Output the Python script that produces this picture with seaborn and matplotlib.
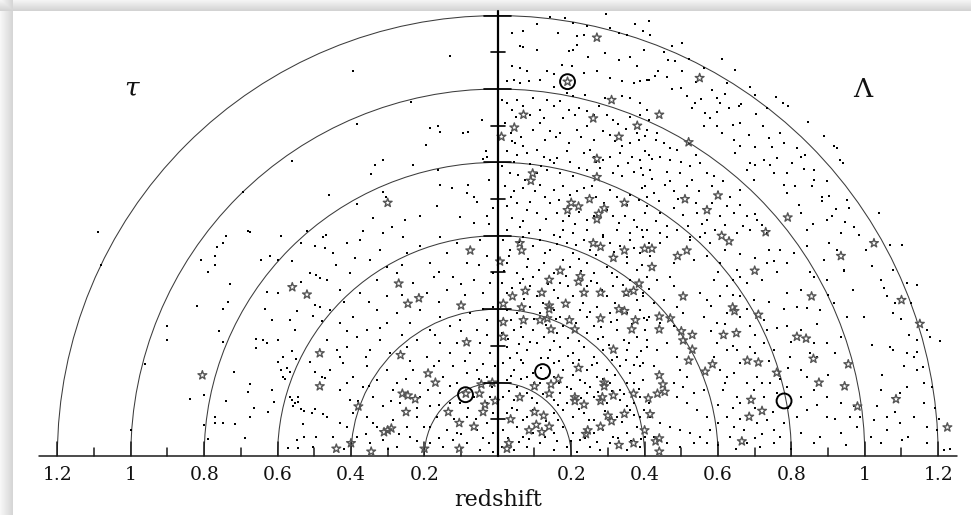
import numpy as np
import pandas as pd
import matplotlib
matplotlib.use("Agg")
import matplotlib.pyplot as plt
from matplotlib.patches import Arc
import seaborn as sns

# ---- wedge geometry -------------------------------------------------------
shell_radii = [0.2, 0.4, 0.6, 0.8, 1.0, 1.2]          # redshift shells
tick_values = [0.2, 0.4, 0.6, 0.8, 1.0, 1.2]
tick_labels = ["0.2", "0.4", "0.6", "0.8", "1", "1.2"]
axis_label = "redshift"
left_name, right_name = "τ", "Λ"

# ---- galaxies (projected x, y in redshift units) --------------------------
field_left_outer = [
    (-0.56, 0.805), (-0.695, 0.72), (-1.09, 0.61), (-0.74, 0.60), (-0.68, 0.613),
    (-0.59, 0.60), (-0.46, 0.71), (-1.08, 0.52), (-0.96, 0.25), (-1.0, 0.07),
    (-0.90, 0.355), (-0.90, 0.315), (-0.75, 0.58), (-0.765, 0.57), (-0.77, 0.545),
    (-0.77, 0.52), (-0.79, 0.50), (-0.81, 0.535), (-0.73, 0.47), (-0.735, 0.42),
    (-0.75, 0.40), (-0.82, 0.41), (-0.76, 0.34), (-0.75, 0.31), (-0.72, 0.23),
    (-0.84, 0.155), (-0.80, 0.165), (-0.74, 0.15), (-0.77, 0.107), (-0.77, 0.09),
    (-0.75, 0.09), (-0.715, 0.087), (-0.80, 0.085), (-0.79, 0.045), (-0.69, 0.048),
    (-0.675, 0.61), (-0.645, 0.535), (-0.62, 0.545), (-0.60, 0.535), (-0.56, 0.53),
    (-0.635, 0.40), (-0.615, 0.37), (-0.66, 0.32), (-0.64, 0.315), (-0.63, 0.307),
    (-0.60, 0.315), (-0.66, 0.295), (-0.585, 0.27), (-0.56, 0.285), (-0.55, 0.265),
    (-0.60, 0.257), (-0.59, 0.235), (-0.575, 0.24), (-0.585, 0.216), (-0.58, 0.21),
    (-0.565, 0.23), (-0.615, 0.18), (-0.61, 0.148), (-0.625, 0.12), (-0.675, 0.196),
    (-0.68, 0.175), (-0.665, 0.13), (-0.675, 0.105), (-0.565, 0.16), (-0.56, 0.153),
    (-0.553, 0.144), (-0.557, 0.135), (-0.544, 0.162), (-0.545, 0.148), (-0.536, 0.127),
    (-0.528, 0.123), (-0.507, 0.118), (-0.498, 0.127), (-0.475, 0.115), (-0.532, 0.087),
    (-0.528, 0.051), (-0.548, 0.044), (-0.571, 0.021), (-0.544, 0.021), (-0.503, 0.024),
    (-0.494, 0.051), (-0.471, 0.212), (-0.498, 0.23), (-0.48, 0.216), (-0.512, 0.255),
    (-0.553, 0.344), (-0.566, 0.371), (-0.548, 0.394), (-0.498, 0.412), (-0.485, 0.407),
    (-0.503, 0.382), (-0.48, 0.369), (-0.535, 0.475), (-0.512, 0.498), (-0.494, 0.492),
    (-0.485, 0.485), (-0.471, 0.566), (-0.498, 0.571), (-0.535, 0.58), (-0.63, 0.448),
    (-0.598, 0.444), (-0.521, 0.612), (-0.468, 0.603),
    (-0.13, 1.09), (-0.395, 1.05), (-0.237, 0.965), (-0.385, 0.905), (-0.185, 0.894),
    (-0.162, 0.898), (-0.157, 0.882), (-0.195, 0.848), (-0.094, 0.88), (-0.08, 0.883),
    (-0.042, 0.916), (-0.033, 0.83), (-0.03, 0.816), (-0.039, 0.81), (-0.335, 0.792),
    (-0.346, 0.768), (-0.314, 0.807), (-0.23, 0.794), (-0.162, 0.78), (-0.385, 0.687),
    (-0.312, 0.718), (-0.305, 0.707), (-0.157, 0.739), (-0.125, 0.73), (-0.08, 0.739),
    (-0.085, 0.716), (-0.066, 0.707), (-0.057, 0.691), (-0.025, 0.753), (-0.012, 0.675),
    (-0.253, 0.644), (-0.212, 0.655), (-0.166, 0.68), (-0.103, 0.651), (-0.066, 0.636),
    (-0.03, 0.653), (-0.025, 0.633), (-0.289, 0.625), (-0.366, 0.612), (-0.339, 0.648),
    (-0.312, 0.607),
]
field_left_inner = [
    (-0.475, 0.598), (-0.448, 0.553), (-0.412, 0.58), (-0.375, 0.589), (-0.348, 0.535),
    (-0.321, 0.562), (-0.303, 0.516), (-0.257, 0.598), (-0.248, 0.553), (-0.212, 0.571),
    (-0.185, 0.525), (-0.157, 0.598), (-0.139, 0.553), (-0.112, 0.58), (-0.085, 0.525),
    (-0.048, 0.589), (-0.03, 0.544), (-0.012, 0.498), (-0.466, 0.48), (-0.43, 0.453),
    (-0.403, 0.498), (-0.375, 0.444), (-0.33, 0.48), (-0.303, 0.435), (-0.275, 0.498),
    (-0.23, 0.471), (-0.194, 0.444), (-0.175, 0.489), (-0.139, 0.453), (-0.121, 0.489),
    (-0.066, 0.48), (-0.039, 0.444), (-0.021, 0.471), (-0.457, 0.398), (-0.43, 0.362),
    (-0.394, 0.38), (-0.357, 0.344), (-0.33, 0.398), (-0.303, 0.362), (-0.275, 0.389),
    (-0.239, 0.362), (-0.212, 0.398), (-0.185, 0.344), (-0.157, 0.38), (-0.13, 0.353),
    (-0.103, 0.371), (-0.075, 0.389), (-0.057, 0.344), (-0.03, 0.371), (-0.012, 0.407),
    (-0.466, 0.316), (-0.439, 0.289), (-0.412, 0.298), (-0.385, 0.325), (-0.348, 0.289),
    (-0.321, 0.316), (-0.294, 0.28), (-0.248, 0.298), (-0.221, 0.316), (-0.194, 0.271),
    (-0.157, 0.307), (-0.13, 0.28), (-0.112, 0.307), (-0.075, 0.28), (-0.048, 0.307),
    (-0.021, 0.28), (-0.007, 0.244), (-0.457, 0.235), (-0.421, 0.253), (-0.394, 0.216),
    (-0.357, 0.244), (-0.33, 0.207), (-0.303, 0.235), (-0.275, 0.198), (-0.23, 0.235),
    (-0.212, 0.198), (-0.175, 0.244), (-0.148, 0.216), (-0.121, 0.244), (-0.112, 0.198),
    (-0.085, 0.225), (-0.057, 0.235), (-0.03, 0.216), (-0.016, 0.189), (-0.43, 0.18),
    (-0.403, 0.153), (-0.366, 0.189), (-0.339, 0.162), (-0.312, 0.135), (-0.285, 0.18),
    (-0.266, 0.144), (-0.212, 0.162), (-0.185, 0.135), (-0.157, 0.171), (-0.13, 0.144),
    (-0.103, 0.144), (-0.066, 0.162), (-0.03, 0.144), (-0.012, 0.116), (-0.466, 0.107),
    (-0.43, 0.089), (-0.394, 0.116), (-0.357, 0.107), (-0.33, 0.08), (-0.285, 0.098),
    (-0.248, 0.08), (-0.221, 0.107), (-0.185, 0.08), (-0.166, 0.107), (-0.139, 0.071),
    (-0.112, 0.062), (-0.085, 0.107), (-0.057, 0.071), (-0.03, 0.089), (-0.012, 0.062),
    (-0.448, 0.053), (-0.385, 0.053), (-0.348, 0.035), (-0.312, 0.044), (-0.275, 0.025),
    (-0.239, 0.053), (-0.185, 0.035), (-0.148, 0.025), (-0.121, 0.044), (-0.085, 0.035),
    (-0.048, 0.016), (-0.025, 0.035), (-0.012, 0.012),
    (-0.44, 0.52), (-0.39, 0.54), (-0.26, 0.52), (-0.16, 0.50), (-0.10, 0.47), (-0.05, 0.52),
    (-0.42, 0.42), (-0.35, 0.42), (-0.26, 0.44), (-0.16, 0.42), (-0.09, 0.44), (-0.04, 0.40),
    (-0.41, 0.34), (-0.32, 0.35), (-0.26, 0.33), (-0.17, 0.33), (-0.10, 0.34), (-0.03, 0.33),
    (-0.43, 0.27), (-0.36, 0.27), (-0.24, 0.26), (-0.16, 0.26), (-0.09, 0.26), (-0.04, 0.25),
    (-0.41, 0.20), (-0.35, 0.19), (-0.25, 0.21), (-0.19, 0.18), (-0.13, 0.19), (-0.05, 0.21),
    (-0.38, 0.15), (-0.29, 0.15), (-0.22, 0.13), (-0.16, 0.14), (-0.08, 0.13), (-0.02, 0.16),
    (-0.41, 0.08), (-0.34, 0.09), (-0.27, 0.06), (-0.20, 0.08), (-0.12, 0.10), (-0.06, 0.10),
    (-0.42, 0.02), (-0.36, 0.06), (-0.30, 0.02), (-0.22, 0.04), (-0.16, 0.05), (-0.10, 0.06),
    (-0.04, 0.05),
]
field_right_inner = [
    (0.015, 0.589), (0.034, 0.562), (0.07, 0.598), (0.097, 0.571), (0.115, 0.589),
    (0.143, 0.562), (0.17, 0.598), (0.188, 0.58), (0.206, 0.553), (0.234, 0.589),
    (0.252, 0.562), (0.288, 0.598), (0.306, 0.58), (0.334, 0.571), (0.361, 0.589),
    (0.388, 0.553), (0.411, 0.58), (0.025, 0.525), (0.052, 0.498), (0.079, 0.516),
    (0.097, 0.489), (0.125, 0.525), (0.152, 0.498), (0.179, 0.535), (0.197, 0.516),
    (0.243, 0.525), (0.261, 0.498), (0.297, 0.516), (0.325, 0.489), (0.352, 0.525),
    (0.379, 0.507), (0.406, 0.489), (0.011, 0.471), (0.038, 0.457), (0.061, 0.471),
    (0.088, 0.462), (0.106, 0.435), (0.152, 0.453), (0.17, 0.471), (0.206, 0.435),
    (0.243, 0.462), (0.27, 0.471), (0.297, 0.435), (0.315, 0.462), (0.361, 0.48),
    (0.397, 0.444), (0.025, 0.398), (0.052, 0.389), (0.088, 0.407), (0.115, 0.389),
    (0.152, 0.398), (0.17, 0.38), (0.225, 0.398), (0.243, 0.38), (0.27, 0.407),
    (0.306, 0.389), (0.325, 0.371), (0.352, 0.389), (0.388, 0.398), (0.411, 0.38),
    (0.011, 0.335), (0.043, 0.344), (0.07, 0.325), (0.097, 0.344), (0.125, 0.325),
    (0.161, 0.335), (0.179, 0.353), (0.243, 0.335), (0.261, 0.353), (0.288, 0.325),
    (0.325, 0.344), (0.343, 0.316), (0.379, 0.325), (0.402, 0.344), (0.025, 0.298),
    (0.052, 0.28), (0.079, 0.289), (0.106, 0.307), (0.143, 0.289), (0.17, 0.298),
    (0.206, 0.28), (0.234, 0.298), (0.261, 0.271), (0.288, 0.289), (0.325, 0.271),
    (0.352, 0.289), (0.379, 0.271), (0.406, 0.298), (0.015, 0.253), (0.043, 0.235),
    (0.07, 0.253), (0.097, 0.225), (0.152, 0.253), (0.179, 0.235), (0.206, 0.253),
    (0.243, 0.235), (0.27, 0.253), (0.297, 0.235), (0.334, 0.244), (0.361, 0.225),
    (0.388, 0.244), (0.025, 0.207), (0.052, 0.189), (0.079, 0.216), (0.115, 0.198),
    (0.152, 0.216), (0.188, 0.189), (0.225, 0.207), (0.252, 0.189), (0.27, 0.216),
    (0.306, 0.198), (0.334, 0.18), (0.37, 0.198), (0.397, 0.207), (0.015, 0.162),
    (0.043, 0.153), (0.079, 0.171), (0.106, 0.144), (0.152, 0.153), (0.17, 0.171),
    (0.188, 0.144), (0.243, 0.171), (0.261, 0.162), (0.297, 0.144), (0.334, 0.153),
    (0.352, 0.135), (0.388, 0.162), (0.411, 0.144), (0.025, 0.116), (0.052, 0.125),
    (0.079, 0.107), (0.152, 0.116), (0.179, 0.125), (0.206, 0.107), (0.234, 0.116),
    (0.261, 0.098), (0.325, 0.107), (0.361, 0.125), (0.388, 0.107), (0.015, 0.071),
    (0.052, 0.08), (0.07, 0.053), (0.097, 0.062), (0.152, 0.062), (0.179, 0.08),
    (0.206, 0.062), (0.225, 0.044), (0.261, 0.062), (0.288, 0.071), (0.315, 0.053),
    (0.352, 0.062), (0.379, 0.08), (0.402, 0.053), (0.011, 0.025), (0.043, 0.016),
    (0.079, 0.025), (0.115, 0.035), (0.152, 0.016), (0.188, 0.025), (0.215, 0.012),
    (0.252, 0.025), (0.279, 0.016), (0.306, 0.035), (0.352, 0.016), (0.388, 0.025),
    (0.397, 0.598), (0.415, 0.544), (0.443, 0.58), (0.461, 0.598), (0.406, 0.489),
    (0.434, 0.48), (0.47, 0.489), (0.479, 0.462), (0.397, 0.435), (0.425, 0.416),
    (0.452, 0.425), (0.488, 0.407), (0.506, 0.389), (0.406, 0.371), (0.443, 0.362),
    (0.479, 0.353), (0.406, 0.316), (0.434, 0.289), (0.461, 0.307), (0.488, 0.271),
    (0.397, 0.253), (0.425, 0.244), (0.497, 0.235), (0.515, 0.216), (0.479, 0.198),
    (0.506, 0.189), (0.534, 0.171), (0.561, 0.18), (0.488, 0.162), (0.515, 0.144),
    (0.543, 0.125), (0.57, 0.107), (0.415, 0.107), (0.443, 0.089), (0.47, 0.08),
    (0.497, 0.071), (0.525, 0.062), (0.552, 0.053), (0.579, 0.071), (0.425, 0.053),
    (0.461, 0.035), (0.497, 0.025), (0.534, 0.035), (0.57, 0.035),
]
field_right_dense = [
    (0.03, 0.545), (0.058, 0.582), (0.083, 0.538), (0.128, 0.552), (0.162, 0.578),
    (0.213, 0.575), (0.222, 0.536), (0.268, 0.548), (0.318, 0.557), (0.351, 0.542),
    (0.372, 0.566), (0.018, 0.505), (0.068, 0.482), (0.112, 0.506), (0.138, 0.468),
    (0.186, 0.49), (0.228, 0.505), (0.255, 0.478), (0.31, 0.498), (0.342, 0.466),
    (0.392, 0.52), (0.026, 0.445), (0.072, 0.428), (0.124, 0.418), (0.164, 0.43),
    (0.192, 0.462), (0.232, 0.418), (0.283, 0.452), (0.319, 0.418), (0.348, 0.438),
    (0.38, 0.425), (0.412, 0.455), (0.035, 0.37), (0.062, 0.352), (0.098, 0.372),
    (0.132, 0.356), (0.158, 0.372), (0.214, 0.362), (0.252, 0.392), (0.28, 0.352),
    (0.308, 0.365), (0.366, 0.36), (0.398, 0.376), (0.028, 0.318), (0.058, 0.305),
    (0.088, 0.31), (0.118, 0.268), (0.152, 0.312), (0.19, 0.322), (0.222, 0.312),
    (0.272, 0.318), (0.302, 0.302), (0.358, 0.308), (0.39, 0.285), (0.032, 0.268),
    (0.062, 0.262), (0.118, 0.24), (0.138, 0.268), (0.168, 0.258), (0.19, 0.272),
    (0.222, 0.262), (0.258, 0.248), (0.312, 0.262), (0.348, 0.262), (0.372, 0.248),
    (0.036, 0.218), (0.064, 0.21), (0.10, 0.20), (0.132, 0.212), (0.168, 0.198),
    (0.205, 0.22), (0.238, 0.20), (0.288, 0.21), (0.32, 0.222), (0.352, 0.20),
    (0.384, 0.182), (0.03, 0.178), (0.06, 0.168), (0.092, 0.158), (0.122, 0.168),
    (0.165, 0.138), (0.20, 0.182), (0.226, 0.158), (0.272, 0.175), (0.31, 0.178),
    (0.345, 0.168), (0.372, 0.145), (0.038, 0.132), (0.068, 0.098), (0.095, 0.125),
    (0.132, 0.095), (0.165, 0.098), (0.222, 0.128), (0.248, 0.098), (0.292, 0.122),
    (0.338, 0.092), (0.372, 0.112), (0.398, 0.125), (0.028, 0.05), (0.058, 0.038),
    (0.085, 0.045), (0.128, 0.052), (0.162, 0.042), (0.20, 0.042), (0.238, 0.05),
    (0.27, 0.038), (0.328, 0.048), (0.362, 0.042), (0.39, 0.045),
    (0.035, 0.705), (0.088, 0.692), (0.128, 0.705), (0.168, 0.698), (0.198, 0.712),
    (0.268, 0.705), (0.29, 0.69), (0.352, 0.685), (0.392, 0.73), (0.04, 0.648),
    (0.07, 0.64), (0.13, 0.645), (0.178, 0.64), (0.21, 0.632), (0.262, 0.655),
    (0.33, 0.635), (0.378, 0.625), (0.045, 0.80), (0.088, 0.795), (0.118, 0.79),
    (0.198, 0.80), (0.222, 0.785), (0.268, 0.80), (0.328, 0.79), (0.355, 0.798),
    (0.39, 0.785), (0.035, 0.88), (0.062, 0.87), (0.128, 0.862), (0.158, 0.868),
    (0.228, 0.868), (0.262, 0.86), (0.32, 0.858), (0.35, 0.89), (0.378, 0.88),
    (0.05, 0.925), (0.088, 0.93), (0.125, 0.92), (0.178, 0.92), (0.21, 0.93),
    (0.262, 0.928), (0.328, 0.905),
    (0.43, 0.64), (0.462, 0.628), (0.518, 0.628), (0.556, 0.632), (0.62, 0.63),
    (0.668, 0.628), (0.72, 0.63), (0.44, 0.695), (0.49, 0.70), (0.54, 0.69),
    (0.585, 0.69), (0.625, 0.68), (0.66, 0.685), (0.70, 0.66), (0.42, 0.755),
    (0.47, 0.75), (0.53, 0.752), (0.60, 0.72), (0.42, 0.81), (0.50, 0.80),
    (0.54, 0.82), (0.43, 0.86), (0.47, 0.84), (0.52, 0.85),
    (0.62, 0.56), (0.66, 0.55), (0.70, 0.54), (0.74, 0.56), (0.60, 0.50), (0.64, 0.48),
    (0.72, 0.48), (0.76, 0.50), (0.58, 0.41), (0.64, 0.44), (0.68, 0.40), (0.74, 0.42),
    (0.78, 0.40), (0.58, 0.34), (0.62, 0.36), (0.70, 0.33), (0.76, 0.35), (0.80, 0.31),
    (0.59, 0.27), (0.64, 0.30), (0.70, 0.28), (0.74, 0.26), (0.79, 0.24), (0.62, 0.20),
    (0.68, 0.20), (0.72, 0.20), (0.77, 0.21), (0.60, 0.14), (0.64, 0.13), (0.70, 0.13),
    (0.75, 0.12), (0.79, 0.13), (0.60, 0.09), (0.66, 0.10), (0.72, 0.06), (0.78, 0.09),
    (0.60, 0.03), (0.65, 0.02), (0.70, 0.05), (0.80, 0.02), (0.85, 0.50), (0.90, 0.44),
    (0.87, 0.36), (0.92, 0.28), (0.90, 0.22), (0.85, 0.28), (0.92, 0.10), (0.95, 0.03),
    (0.87, 0.14),
    (0.452, 1.102), (0.503, 1.048), (0.541, 1.018), (0.584, 0.996), (0.522, 1.082),
    (0.474, 1.118), (0.563, 1.057), (0.618, 0.987), (0.662, 0.958), (0.703, 0.932),
    (0.684, 0.876), (0.722, 0.898), (0.748, 0.842), (0.781, 0.853), (0.802, 0.797),
    (0.834, 0.781), (0.862, 0.752), (0.903, 0.708), (0.921, 0.672), (0.947, 0.638),
    (0.983, 0.603), (1.004, 0.562), (1.021, 0.518), (1.052, 0.458), (1.083, 0.417),
    (1.098, 0.372), (1.121, 0.331), (1.143, 0.282), (1.158, 0.243), (1.182, 0.188),
    (1.191, 0.132), (1.203, 0.102), (1.118, 0.052), (1.082, 0.121), (1.047, 0.222),
    (1.019, 0.302), (0.998, 0.378), (0.968, 0.452), (0.942, 0.503), (0.903, 0.581),
    (0.858, 0.632), (0.822, 0.684), (0.781, 0.738), (0.742, 0.792), (0.702, 0.843),
    (0.641, 0.902), (0.598, 0.938), (0.553, 0.972), (0.498, 1.003), (0.461, 1.032),
]
field_right_middle = [
    (0.525, 0.589), (0.552, 0.598), (0.579, 0.58), (0.479, 0.525), (0.534, 0.535),
    (0.57, 0.544), (0.606, 0.525), (0.652, 0.507), (0.661, 0.489), (0.588, 0.48),
    (0.625, 0.462), (0.68, 0.471), (0.552, 0.444), (0.57, 0.425), (0.606, 0.435),
    (0.661, 0.435), (0.697, 0.425), (0.561, 0.38), (0.597, 0.362), (0.625, 0.389),
    (0.661, 0.38), (0.688, 0.353), (0.725, 0.371), (0.734, 0.344), (0.597, 0.307),
    (0.625, 0.289), (0.652, 0.289), (0.688, 0.298), (0.725, 0.307), (0.752, 0.289),
    (0.606, 0.235), (0.625, 0.216), (0.643, 0.225), (0.661, 0.253), (0.706, 0.216),
    (0.741, 0.198), (0.615, 0.18), (0.652, 0.162), (0.661, 0.144), (0.697, 0.18),
    (0.725, 0.162), (0.761, 0.171), (0.625, 0.107), (0.643, 0.08), (0.67, 0.071),
    (0.706, 0.089), (0.734, 0.098), (0.752, 0.071), (0.634, 0.053), (0.679, 0.035),
    (0.715, 0.025), (0.752, 0.035), (0.77, 0.053),
    (0.77, 0.562), (0.752, 0.53), (0.734, 0.525), (0.788, 0.525), (0.806, 0.553),
    (0.843, 0.571), (0.888, 0.535), (0.925, 0.562), (0.943, 0.507), (0.897, 0.48),
    (0.861, 0.489), (0.825, 0.453), (0.788, 0.444), (0.815, 0.407), (0.843, 0.403),
    (0.879, 0.398), (0.915, 0.416), (0.952, 0.38), (0.788, 0.353), (0.825, 0.344),
    (0.861, 0.307), (0.87, 0.271), (0.897, 0.307), (0.934, 0.325), (0.797, 0.271),
    (0.825, 0.235), (0.843, 0.216), (0.788, 0.189), (0.861, 0.18), (0.897, 0.162),
    (0.934, 0.144), (0.961, 0.107), (0.979, 0.08), (0.897, 0.107), (0.843, 0.125),
    (0.825, 0.162), (0.815, 0.107), (0.879, 0.053), (0.861, 0.035), (0.934, 0.062),
    (0.825, 0.062), (0.988, 0.107), (0.97, 0.135),
    (0.406, 0.889), (0.434, 0.88), (0.452, 0.853), (0.402, 0.83), (0.443, 0.816),
    (0.47, 0.807), (0.488, 0.835), (0.415, 0.78), (0.461, 0.775), (0.497, 0.771),
    (0.525, 0.789), (0.552, 0.798), (0.57, 0.771), (0.588, 0.762), (0.402, 0.735),
    (0.425, 0.716), (0.456, 0.739), (0.479, 0.721), (0.515, 0.735), (0.547, 0.721),
    (0.585, 0.735), (0.615, 0.748), (0.634, 0.707), (0.406, 0.68), (0.443, 0.662),
    (0.479, 0.675), (0.506, 0.657), (0.543, 0.662), (0.57, 0.644), (0.606, 0.653),
    (0.643, 0.662), (0.679, 0.653), (0.706, 0.644), (0.406, 0.616), (0.443, 0.607),
    (0.488, 0.616), (0.525, 0.598), (0.565, 0.607), (0.592, 0.616), (0.652, 0.607),
    (0.688, 0.616), (0.734, 0.607),
]
field_right_upper = [
    (0.011, 0.789), (0.034, 0.771), (0.056, 0.766), (0.075, 0.753), (0.106, 0.771),
    (0.134, 0.78), (0.17, 0.771), (0.206, 0.762), (0.243, 0.78), (0.279, 0.785),
    (0.315, 0.771), (0.338, 0.762), (0.37, 0.775), (0.397, 0.766), (0.02, 0.735),
    (0.043, 0.721), (0.07, 0.73), (0.102, 0.721), (0.115, 0.739), (0.152, 0.725),
    (0.179, 0.735), (0.215, 0.721), (0.234, 0.73), (0.256, 0.735), (0.306, 0.725),
    (0.325, 0.707), (0.361, 0.712), (0.384, 0.698), (0.406, 0.707), (0.025, 0.68),
    (0.052, 0.689), (0.079, 0.671), (0.106, 0.662), (0.143, 0.689), (0.161, 0.662),
    (0.193, 0.653), (0.22, 0.666), (0.243, 0.644), (0.297, 0.671), (0.315, 0.653),
    (0.347, 0.653), (0.37, 0.644), (0.402, 0.662), (0.025, 0.616), (0.061, 0.625),
    (0.084, 0.607), (0.115, 0.616), (0.152, 0.603), (0.179, 0.616), (0.206, 0.607),
    (0.243, 0.616), (0.288, 0.603), (0.325, 0.616), (0.361, 0.607), (0.393, 0.616),
    (0.025, 1.021), (0.043, 1.025), (0.061, 1.016), (0.086, 1.021), (0.115, 1.025),
    (0.152, 1.005), (0.188, 0.989), (0.206, 0.98), (0.238, 0.985), (0.275, 0.953),
    (0.293, 0.975), (0.338, 0.98), (0.361, 0.975), (0.388, 0.962), (0.406, 0.944),
    (0.011, 0.971), (0.025, 0.962), (0.038, 0.944), (0.052, 0.971), (0.07, 0.953),
    (0.097, 0.975), (0.115, 0.944), (0.134, 0.971), (0.152, 0.953), (0.17, 0.966),
    (0.193, 0.944), (0.22, 0.948), (0.243, 0.939), (0.297, 0.93), (0.315, 0.916),
    (0.361, 0.925), (0.388, 0.93), (0.411, 0.916), (0.02, 0.907), (0.038, 0.857),
    (0.047, 0.853), (0.07, 0.846), (0.097, 0.889), (0.115, 0.907), (0.143, 0.885),
    (0.17, 0.88), (0.193, 0.853), (0.215, 0.889), (0.243, 0.898), (0.288, 0.885),
    (0.306, 0.875), (0.338, 0.844), (0.361, 0.853), (0.384, 0.862), (0.402, 0.871),
    (0.025, 0.83), (0.052, 0.821), (0.079, 0.825), (0.106, 0.835), (0.125, 0.816),
    (0.143, 0.807), (0.152, 0.798), (0.161, 0.812), (0.188, 0.83), (0.234, 0.825),
    (0.252, 0.835), (0.261, 0.816), (0.288, 0.807), (0.306, 0.816), (0.334, 0.825),
    (0.365, 0.816), (0.388, 0.807), (0.411, 0.821),
    (0.038, 1.153), (0.07, 1.157), (0.106, 1.178), (0.143, 1.196), (0.165, 1.153),
    (0.184, 1.194), (0.206, 1.18), (0.215, 1.144), (0.234, 1.148), (0.243, 1.171),
    (0.295, 1.203), (0.306, 1.166), (0.329, 1.153), (0.352, 1.148), (0.375, 1.178),
    (0.397, 1.157), (0.411, 1.185), (0.061, 1.116), (0.07, 1.114), (0.106, 1.105),
    (0.193, 1.103), (0.206, 1.107), (0.215, 1.121), (0.245, 1.087), (0.293, 1.098),
    (0.329, 1.08), (0.361, 1.087), (0.379, 1.062), (0.399, 1.107), (0.038, 1.062),
    (0.061, 1.057), (0.079, 1.048), (0.134, 1.048), (0.152, 1.042), (0.175, 1.066),
    (0.202, 1.062), (0.234, 1.044), (0.27, 1.048), (0.306, 1.03), (0.338, 1.021),
    (0.37, 1.016), (0.388, 1.021), (0.411, 1.025),
]
field_right_outer = [
    (0.415, 1.148), (0.502, 1.125), (0.61, 1.082), (0.647, 1.053), (0.688, 1.005),
    (0.759, 0.978), (0.777, 0.962), (0.792, 0.955), (0.845, 0.909), (0.888, 0.871),
    (0.915, 0.845), (0.923, 0.839), (0.932, 0.807), (0.941, 0.798), (1.038, 0.662),
    (0.465, 1.08), (0.483, 1.075), (0.437, 1.048), (0.406, 1.025), (0.429, 1.036),
    (0.475, 1.0), (0.515, 0.98), (0.537, 0.962), (0.528, 0.948), (0.597, 0.975),
    (0.606, 0.962), (0.629, 0.948), (0.657, 0.953), (0.625, 1.015), (0.565, 0.935),
    (0.579, 0.921), (0.561, 0.898), (0.597, 0.898), (0.61, 0.88), (0.66, 0.907),
    (0.702, 0.985), (0.734, 0.948), (0.738, 0.866), (0.77, 0.88), (0.815, 0.839),
    (0.825, 0.816), (0.838, 0.821), (0.861, 0.78), (0.884, 0.707), (0.897, 0.748),
    (0.688, 0.798), (0.702, 0.794), (0.725, 0.807), (0.761, 0.812), (0.788, 0.771),
    (0.811, 0.735), (0.856, 0.735), (0.884, 0.694), (0.952, 0.698), (0.956, 0.675),
    (0.97, 0.625), (0.934, 0.607), (0.897, 0.644), (0.911, 0.653), (0.825, 0.662),
    (0.843, 0.616), (0.788, 0.716), (0.66, 0.844), (0.647, 0.825), (0.643, 0.862),
    (0.697, 0.753), (0.679, 0.78), (0.752, 0.771), (0.66, 0.725),
    (1.07, 0.575), (1.102, 0.575), (1.078, 0.507), (1.043, 0.48), (1.061, 0.435),
    (1.115, 0.471), (1.142, 0.466), (1.125, 0.416), (1.078, 0.389), (1.07, 0.298),
    (1.078, 0.289), (1.115, 0.28), (1.133, 0.271), (1.142, 0.316), (1.169, 0.344),
    (1.179, 0.325), (1.206, 0.312), (1.106, 0.244), (1.142, 0.235), (1.161, 0.198),
    (1.115, 0.189), (1.097, 0.171), (1.043, 0.18), (1.034, 0.135), (1.061, 0.107),
    (1.097, 0.089), (1.133, 0.107), (1.161, 0.144), (1.17, 0.08), (1.102, 0.044),
    (1.061, 0.071), (1.025, 0.098), (1.016, 0.053), (1.043, 0.035), (1.17, 0.035),
    (1.197, 0.071), (1.215, 0.016), (1.233, 0.02),
]

# ---- emission-line objects (stars) and flagged sources (circles) ----------
stars_upper = [
    (0.27, 1.14), (0.19, 1.02), (0.31, 0.97), (0.07, 0.93), (0.26, 0.92), (0.38, 0.90),
    (0.045, 0.895), (0.01, 0.87), (0.33, 0.87), (0.27, 0.81), (0.095, 0.77), (0.09, 0.75),
    (0.27, 0.76), (-0.30, 0.69), (0.25, 0.70), (0.345, 0.69), (0.20, 0.69), (0.22, 0.68),
    (0.19, 0.67), (0.29, 0.675), (0.275, 0.66), (0.27, 0.645), (0.55, 1.03), (0.44, 0.93),
    (0.52, 0.855), (0.60, 0.71), (0.51, 0.70), (0.57, 0.67), (0.79, 0.65), (0.73, 0.61),
    (0.61, 0.60),
]
stars_inner = [
    (0.06, 0.58), (0.065, 0.56), (-0.075, 0.56), (0.006, 0.53), (0.26, 0.58), (0.28, 0.57),
    (0.315, 0.54), (0.345, 0.56), (0.40, 0.565), (0.17, 0.505), (0.225, 0.49), (0.22, 0.475),
    (0.14, 0.48), (0.075, 0.45), (0.12, 0.445), (0.235, 0.445), (0.28, 0.445), (0.385, 0.47),
    (0.37, 0.45), (0.35, 0.445), (0.04, 0.435), (-0.27, 0.47), (-0.215, 0.43), (-0.245, 0.415),
    (-0.10, 0.41), (0.015, 0.415), (0.065, 0.405), (0.14, 0.41), (0.14, 0.40), (0.185, 0.415),
    (0.33, 0.40), (0.345, 0.395), (0.375, 0.37), (0.365, 0.345), (0.28, 0.375), (0.195, 0.37),
    (0.135, 0.375), (0.115, 0.37), (0.015, 0.365), (0.07, 0.37), (0.145, 0.345), (0.21, 0.345),
    (0.315, 0.29), (0.015, 0.325), (-0.085, 0.31), (-0.265, 0.275), (0.22, 0.24), (-0.485, 0.28),
    (-0.19, 0.225), (-0.17, 0.20), (-0.045, 0.195), (-0.015, 0.20), (-0.05, 0.17), (-0.087, 0.17),
    (-0.26, 0.17), (-0.245, 0.165), (-0.225, 0.155), (-0.38, 0.135), (-0.25, 0.12), (-0.30, 0.07),
    (-0.31, 0.065), (-0.29, 0.075), (-0.40, 0.035), (-0.44, 0.02), (-0.345, 0.012), (-0.20, 0.02),
    (-0.105, 0.02), (-0.105, 0.09), (-0.065, 0.08), (-0.135, 0.12), (-0.035, 0.14), (-0.04, 0.12),
    (-0.007, 0.15), (0.035, 0.10), (0.03, 0.035), (0.025, 0.02), (0.06, 0.16), (0.10, 0.19),
    (0.145, 0.195), (0.165, 0.21), (0.14, 0.17), (0.10, 0.12), (0.125, 0.11), (0.105, 0.085),
    (0.14, 0.08), (0.085, 0.07), (0.12, 0.065), (0.21, 0.16), (0.21, 0.15), (0.235, 0.14),
    (0.28, 0.15), (0.29, 0.20), (0.29, 0.19), (0.315, 0.165), (0.285, 0.16), (0.37, 0.17),
    (0.345, 0.115), (0.30, 0.11), (0.31, 0.095), (0.28, 0.08), (0.245, 0.07), (0.24, 0.06),
    (0.40, 0.07), (0.33, 0.03), (0.37, 0.035),
    (-0.56, 0.46), (-0.52, 0.44), (-0.485, 0.19), (-0.805, 0.22),
]
stars_outer = [
    (0.63, 0.585), (1.025, 0.58), (0.935, 0.545), (0.42, 0.565), (0.515, 0.56), (0.49, 0.545),
    (0.42, 0.515), (0.70, 0.505), (0.505, 0.435), (0.855, 0.435), (1.10, 0.425), (0.64, 0.405),
    (0.645, 0.395), (0.71, 0.385), (0.44, 0.38), (0.47, 0.375), (1.15, 0.36), (0.44, 0.345),
    (0.50, 0.34), (0.505, 0.315), (0.53, 0.33), (0.615, 0.33), (0.65, 0.335), (0.815, 0.325),
    (0.84, 0.32), (0.53, 0.29), (0.52, 0.26), (0.68, 0.26), (0.71, 0.255), (0.86, 0.265),
    (0.585, 0.25), (0.955, 0.25), (0.565, 0.23), (0.76, 0.227), (0.44, 0.22), (0.45, 0.195),
    (0.875, 0.20), (0.945, 0.19), (0.435, 0.17), (0.455, 0.175), (0.41, 0.157), (0.69, 0.153),
    (1.085, 0.155), (0.98, 0.135), (0.72, 0.123), (0.685, 0.107), (0.415, 0.114), (0.44, 0.048),
    (0.43, 0.04), (0.44, 0.012), (0.665, 0.04), (1.225, 0.078),
]
flagged = [(0.19, 1.02), (0.122, 0.23), (-0.088, 0.167), (0.78, 0.15)]

def frame(points):
    return pd.DataFrame(points, columns=["x", "y"])

galaxies = frame(field_left_outer + field_left_inner + field_right_inner
                 + field_right_dense + field_right_middle + field_right_upper
                 + field_right_outer)
stars = frame(stars_upper + stars_inner + stars_outer)
circles = frame(flagged)

# ---- figure ----------------------------------------------------------------
sns.set_style("white")
plt.rcParams["font.family"] = ["DejaVu Serif", "DejaVu Sans"]

W, H, DPI = 971, 515, 100
fig = plt.figure(figsize=(W / DPI, H / DPI), dpi=DPI)

# paper-like panel with a soft shadow along the top and left edges
bg = np.ones((H, W, 3))
bg[:11, :, :] = np.linspace(0.96, 0.83, 11)[:, None, None]
bg[:, :13, :] = np.minimum(bg[:, :13, :], np.linspace(0.97, 0.84, 13)[None, :, None])
fig.figimage(bg, 0, 0, origin="upper", zorder=-10)

ax = fig.add_axes([0, 0, 1, 1], zorder=5)
ax.patch.set_alpha(0)
ax.axis("off")

# redshift shells
for r in shell_radii:
    ax.add_patch(Arc((0, 0), 2 * r, 2 * r, theta1=0, theta2=180,
                     lw=0.75, color="#3c3c3c", zorder=1))

# points
sns.scatterplot(data=galaxies, x="x", y="y", ax=ax, marker="s", s=1.0,
                color="black", linewidth=0, zorder=3, legend=False)
sns.scatterplot(data=stars, x="x", y="y", ax=ax, marker="*", s=44,
                facecolors="none", edgecolors="#555555", linewidth=1.0,
                zorder=4, legend=False)
sns.scatterplot(data=circles, x="x", y="y", ax=ax, marker="o", s=115,
                facecolors="none", edgecolors="black", linewidth=1.4,
                zorder=5, legend=False)

# axes: baseline, central redshift axis and ticks
ax.plot([-1.25, 1.25], [0, 0], color="#1a1a1a", lw=1.1, zorder=2)
ax.plot([0, 0], [0, 1.212], color="black", lw=1.6, zorder=6)
for k in range(1, 13):
    v = k / 10
    major = k % 2 == 0
    h = 0.038 if major else 0.021
    w = 0.037 if major else 0.019
    for s in (-1, 1):
        ax.plot([s * v, s * v], [0, h], color="#1a1a1a", lw=1.1, zorder=2)
    ax.plot([-w, w], [v, v], color="black", lw=1.2, zorder=6)

for v, lab in zip(tick_values, tick_labels):
    for s in (-1, 1):
        ax.text(s * v, -0.052, lab, ha="center", va="center", fontsize=13.5,
                color="#111111")
ax.text(0, -0.1375, axis_label, ha="center", va="baseline", fontsize=16,
        color="#111111")

ax.text(-0.998, 1.003, left_name, ha="center", va="center", fontsize=19,
        fontstyle="italic", color="#111111")
ax.text(0.995, 0.999, right_name, ha="center", va="center", fontsize=19,
        color="#111111")

ax.set_xlim(-1.3564, 1.2894)
ax.set_ylim(-0.1608, 1.2425)

fig.savefig("out.png", dpi=DPI)
